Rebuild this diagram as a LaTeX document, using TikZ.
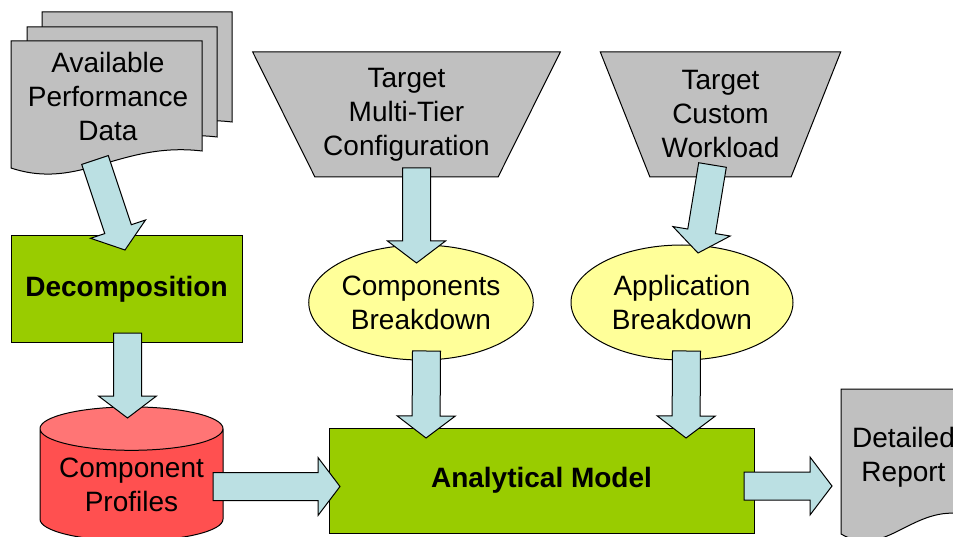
\documentclass[tikz,border=0pt]{standalone}
\usepackage{fontspec}
\setmainfont{Liberation Sans}
\usepackage{tikz}
\usetikzlibrary{calc, shapes.geometric}

\definecolor{pagegray}{HTML}{C0C0C0}
\definecolor{arrowblue}{HTML}{BBE0E3}
\definecolor{boxgreen}{HTML}{99CC00}
\definecolor{ovalyellow}{HTML}{FFFF99}
\definecolor{cylred}{HTML}{FF5050}
\definecolor{cyltop}{HTML}{FF7575}

\newcommand{\docpage}[4]{%
  \draw[page] (#1,#2) -- ({#1+#3},#2) -- ({#1+#3},{#2+0.866*#4})
    .. controls ({#1+0.57*#3},{#2+0.79*#4}) and ({#1+0.36*#3},{#2+1.18*#4}) .. (#1,{#2+#4}) -- cycle;}

\newcommand{\blockarrow}[2]{%
  \coordinate (ba) at (#1);
  \coordinate (bb) at (#2);
  \coordinate (bh) at ($(bb)!22pt!(ba)$);
  \draw[flow] ($(ba)!14pt!90:(bb)$) -- ($(bh)!14pt!90:(bb)$) -- ($(bh)!29pt!90:(bb)$) -- (bb)
    -- ($(bh)!29pt!-90:(bb)$) -- ($(bh)!14pt!-90:(bb)$) -- ($(ba)!14pt!-90:(bb)$) -- cycle;}

\begin{document}
\begin{tikzpicture}[x=1pt, y=-1pt, line width=1pt,
    every node/.style={font=\fontsize{28}{34}\selectfont, align=center},
    page/.style={draw, fill=pagegray},
    flow/.style={draw, fill=arrowblue, line join=miter},
    box/.style={draw, fill=boxgreen, font=\fontsize{28}{34}\selectfont\bfseries},
    oval/.style={ellipse, draw, fill=ovalyellow, minimum width=222, minimum height=115, inner sep=0},
    funnel/.style={trapezium, trapezium stretches=true, shape border rotate=180, draw, fill=pagegray, minimum height=125, inner sep=0}]
            \useasboundingbox (0,0) rectangle (953,537);
            \clip (0,0) rectangle (953,537);

            % document pages
            \docpage{42}{12}{190}{127}
            \docpage{27}{27}{190}{127}
            \docpage{11}{41}{191}{127}
            \docpage{841}{389}{125}{145}

            \node at (108, 96) (avail) {Available\\Performance\\Data};
            \node[box, minimum width=231, minimum height=106] at (126.5, 289) (decomp) {Decomposition};
            \node[cylinder, shape border rotate=90, aspect=0.3, draw, cylinder uses custom fill, cylinder body fill=cylred, cylinder end fill=cyltop, minimum width=183, minimum height=134, inner sep=0] at (131.5, 485) (prof) {Component\\Profiles};
            \node[funnel, trapezium left angle=58.7, trapezium right angle=58.7, minimum width=308] at (406.5, 114.5) (tier) {Target\\Multi-Tier\\Configuration};
            \node[funnel, trapezium left angle=64.7, trapezium right angle=64.7, minimum width=241] at (720.5, 114.5) (work) {Target\\Custom\\Workload};
            \node[oval] at (421, 302.5) (compbd) {Components\\Breakdown};
            \node[oval] at (682, 302.5) (appbd) {Application\\Breakdown};
            \node[box, minimum width=425, minimum height=105] at (541.5, 480.5) (model) {Analytical Model};
            \node at (903.5, 457) (report) {Detailed\\Report};

            % block arrows
            \blockarrow{[shift={(-13,64)}]avail}{[shift={(-1.5,-39)}]decomp}
            \blockarrow{[shift={(1,44)}]decomp}{[shift={(-4,-67)}]prof}
            \blockarrow{[shift={(81.5,1.5)}]prof}{[shift={(-201.5,6)}]model}
            \blockarrow{[shift={(10,53.5)}]tier}{[shift={(-4.5,-39.5)}]compbd}
            \blockarrow{[shift={(-8,50.5)}]work}{[shift={(16,-49.5)}]appbd}
            \blockarrow{[shift={(5.5,48.5)}]compbd}{[shift={(-115.5,-42.5)}]model}
            \blockarrow{[shift={(4.5,48.5)}]appbd}{[shift={(144.5,-42.5)}]model}
            \blockarrow{[shift={(202.5,5.5)}]model}{[shift={(290.5,5.5)}]model}
        \end{tikzpicture}
\end{document}
